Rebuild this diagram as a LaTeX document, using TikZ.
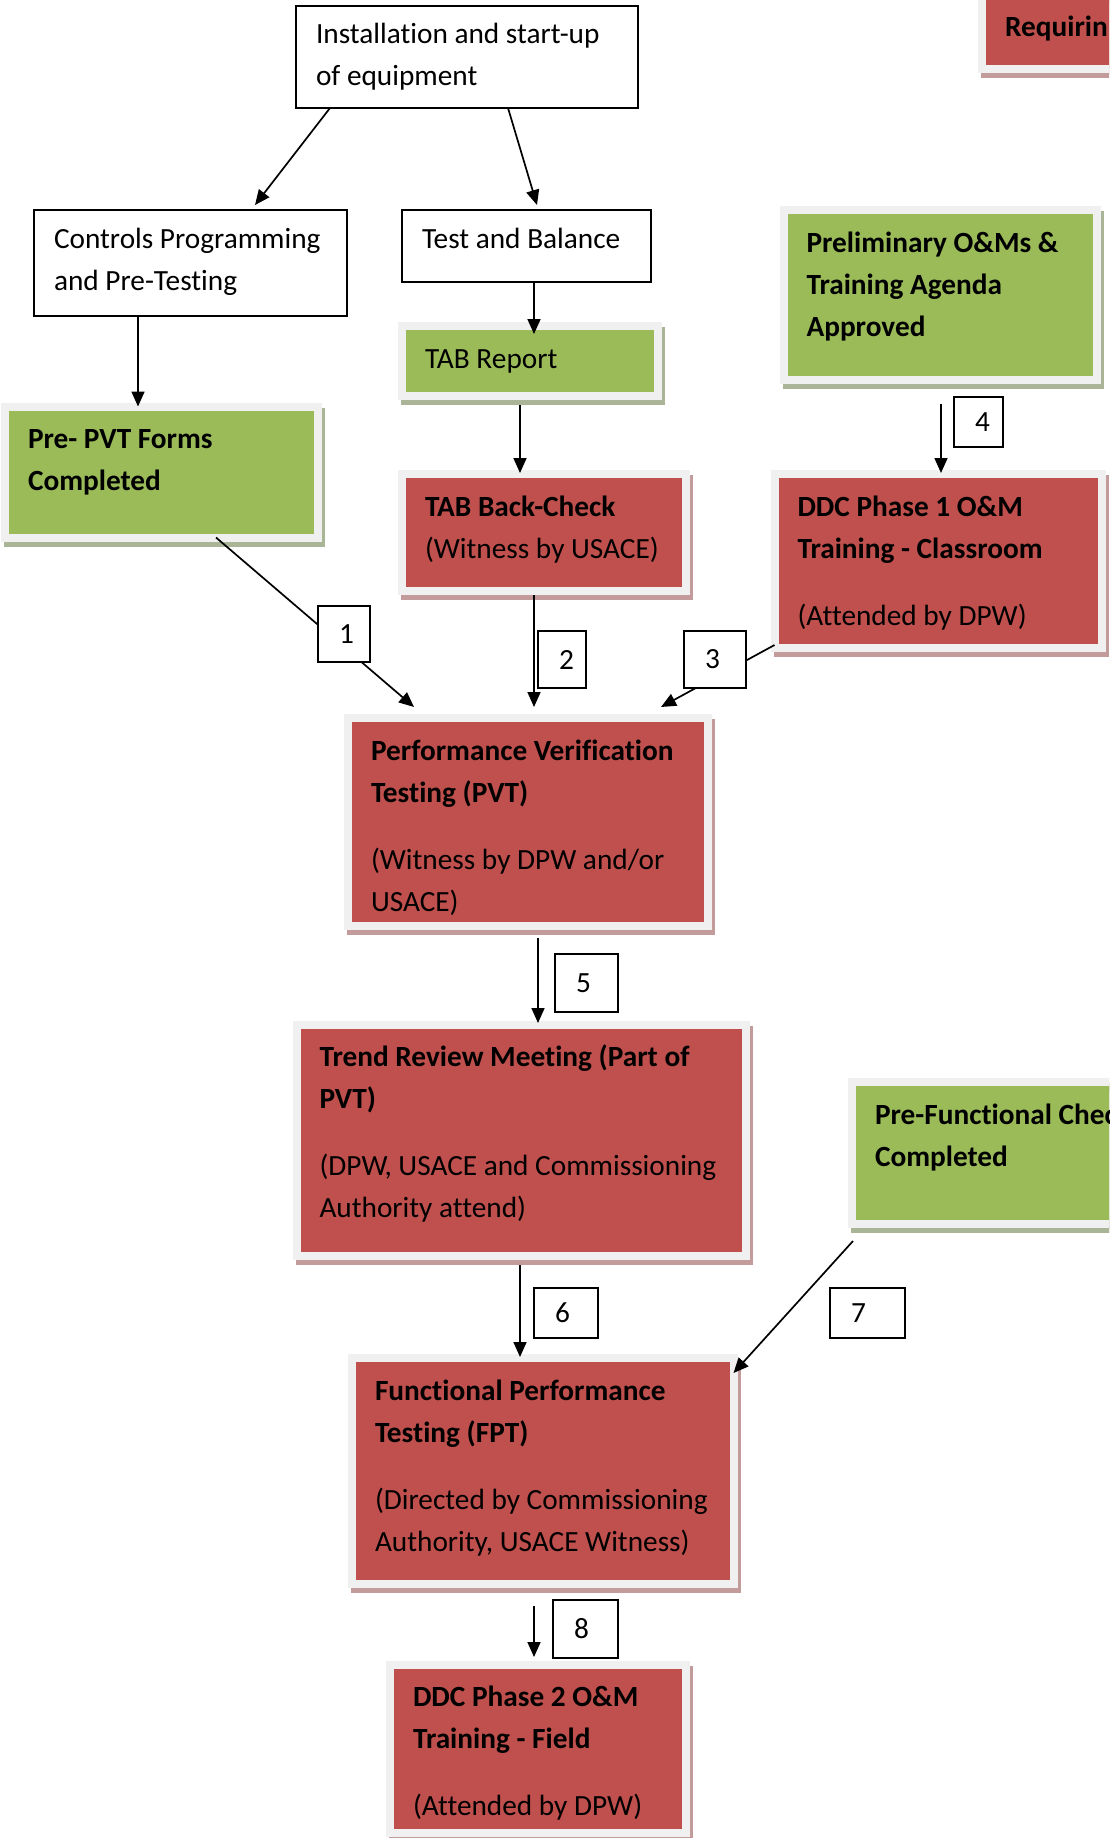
\documentclass[tikz,border=0pt]{standalone}
\usepackage{fontspec}
\setmainfont{Carlito}[Ligatures={NoCommon}]
\usepackage{tikz}
\usetikzlibrary{arrows.meta,shadows}

\definecolor{boxred}{HTML}{C0504D}
\definecolor{boxgreen}{HTML}{9BBB59}
\definecolor{boxrim}{HTML}{F0F0F0}
\definecolor{redshade}{HTML}{C49B9B}
\definecolor{greenshade}{HTML}{AAB496}

% text block at the top of a box: width, height, lines
\newcommand{\boxlines}[3]{\parbox[t][#2][t]{#1}{\begin{tabular}[t]{@{}l@{}}#3\end{tabular}}}

\tikzset{
  plainbox/.style={draw, line width=2pt, fill=white, anchor=north west, outer sep=0pt,
    inner xsep=20pt, inner ysep=8.6pt, font=\fontsize{29.3pt}{42pt}\selectfont},
  redbox/.style={fill=boxred, draw=boxrim, line width=8pt, anchor=north west, outer sep=0pt,
    inner xsep=23pt, inner ysep=12.6pt, font=\fontsize{29.3pt}{42pt}\selectfont,
    general shadow={fill=redshade, draw=redshade, line width=8pt, shadow xshift=3pt, shadow yshift=-5pt}},
  greenbox/.style={redbox, fill=boxgreen,
    general shadow={fill=greenshade, draw=greenshade, line width=8pt, shadow xshift=3pt, shadow yshift=-5pt}},
  numbox/.style={draw, line width=2pt, fill=white, anchor=north west, outer sep=0pt,
    inner xsep=21pt, inner ysep=0pt, align=left, font=\fontsize{29.3pt}{42pt}\selectfont},
}

\begin{document}
\begin{tikzpicture}[x=1pt, y=-1pt, >={Triangle[length=15pt,width=13pt]}]

\useasboundingbox (0,0) rectangle (1109,1838);
\clip (0,0) rectangle (1109,1838);

% boxes
\node[plainbox] (install) at (296,6) {\boxlines{302pt}{84.8pt}{Installation and start-up\\of equipment}};
\node[plainbox] (controls) at (34,210) {\boxlines{273pt}{88.8pt}{Controls Programming\\and Pre-Testing}};
\node[plainbox] (testbal) at (402,210) {\boxlines{209pt}{54.8pt}{Test and Balance}};
\node[greenbox] (tabrep) at (402,326) {\boxlines{210pt}{44.8pt}{TAB Report}};
\node[redbox] (requir) at (982,-5) {\boxlines{222pt}{48.8pt}{\textbf{Requirin}}};
\node[greenbox] (prelim) at (783.5,210) {\boxlines{267pt}{144.3pt}{\textbf{Preliminary O\&Ms \&}\\\textbf{Training Agenda}\\\textbf{Approved}}};
\node[greenbox] (prepvt) at (5,406.5) {\boxlines{267pt}{105.8pt}{\textbf{Pre- PVT Forms}\\\textbf{Completed}}};
\node[redbox] (tabbc) at (402,474) {\boxlines{237.5pt}{91.8pt}{\textbf{TAB Back-Check}\\(Witness by USACE)}};
\node[redbox] (ddc1) at (774.5,474) {\boxlines{281.5pt}{148.8pt}{\textbf{DDC Phase 1 O\&M}\\\textbf{Training - Classroom}\\[25pt](Attended by DPW)}};
\node[redbox] (pvt) at (348,718) {\boxlines{313.5pt}{182.3pt}{\textbf{Performance Verification}\\\textbf{Testing (PVT)}\\[25pt](Witness by DPW and/or\\USACE)}};
\node[redbox] (trend) at (296.5,1024.5) {\boxlines{403.5pt}{205.8pt}{\textbf{Trend Review Meeting (Part of}\\\textbf{PVT)}\\[25pt](DPW, USACE and Commissioning\\Authority attend)}};
\node[greenbox] (prefunc) at (852,1082) {\boxlines{284pt}{116.8pt}{\textbf{Pre-Functional Chec}\\\textbf{Completed}}};
\node[redbox] (fpt) at (352,1358) {\boxlines{335.5pt}{200.8pt}{\textbf{Functional Performance}\\\textbf{Testing (FPT)}\\[25pt](Directed by Commissioning\\Authority, USACE Witness)}};
\node[redbox] (ddc2) at (390,1664.5) {\boxlines{250pt}{143.3pt}{\textbf{DDC Phase 2 O\&M}\\\textbf{Training - Field}\\[25pt](Attended by DPW)}};

% arrows
\draw[line width=1.7pt, ->] ([xshift=34pt]install.south west) -- ([xshift=221pt,yshift=5pt]controls.north west);
\draw[line width=1.7pt, ->] ([xshift=212pt]install.south west) -- ([xshift=135pt,yshift=5pt]testbal.north west);
\draw[line width=1.7pt, ->] ([xshift=104pt]controls.south west) -- ([xshift=133pt]prepvt.north west);
\draw[line width=1.7pt, ->] ([xshift=132pt]testbal.south west) -- ([xshift=132pt,yshift=-8pt]tabrep.north west);
\draw[line width=1.7pt, ->] ([xshift=118pt,yshift=-9pt]tabrep.south west) -- ([xshift=118pt,yshift=1pt]tabbc.north west);
\draw[line width=1.7pt, ->] ([xshift=211pt]prepvt.south west) -- ([xshift=66pt,yshift=11pt]pvt.north west);
\draw[line width=1.7pt, ->] ([xshift=132pt,yshift=-4pt]tabbc.south west) -- ([xshift=186pt,yshift=11pt]pvt.north west);
\draw[line width=1.7pt, ->] ([yshift=3pt]ddc1.south west) -- ([xshift=313pt,yshift=11pt]pvt.north west);
\draw[line width=1.7pt, ->] ([xshift=157.5pt,yshift=-24.5pt]prelim.south west) -- ([xshift=166.5pt,yshift=1pt]ddc1.north west);
\draw[line width=1.7pt, ->] ([xshift=190pt,yshift=-12.5pt]pvt.south west) -- ([xshift=241.5pt,yshift=1.5pt]trend.north west);
\draw[line width=1.7pt, ->] ([xshift=223.5pt,yshift=-9.5pt]trend.south west) -- ([xshift=168pt,yshift=1pt]fpt.north west);
\draw[line width=1.7pt, ->] ([xshift=1pt,yshift=-17pt]prefunc.south west) -- ([yshift=-15pt]fpt.north east);
\draw[line width=1.7pt, ->] ([xshift=182pt,yshift=-22pt]fpt.south west) -- ([xshift=144pt,yshift=7.5pt]ddc2.north west);

% step numbers
\node[numbox, text width=10pt, minimum height=56pt] (n1) at (318,606) {1};
\node[numbox, text width=6pt, minimum height=57pt] (n2) at (538,631) {2};
\node[numbox, text width=19.5pt, minimum height=57pt] (n3) at (684,631) {3};
\node[numbox, text width=7pt, minimum height=50pt] (n4) at (954,397) {4};
\node[numbox, text width=21pt, minimum height=58pt] (n5) at (555,954) {5};
\node[numbox, text width=22pt, minimum height=50pt] (n6) at (534,1288) {6};
\node[numbox, text width=33pt, minimum height=50pt] (n7) at (830,1288) {7};
\node[numbox, text width=23pt, minimum height=58pt] (n8) at (553,1600) {8};

\end{tikzpicture}
\end{document}
